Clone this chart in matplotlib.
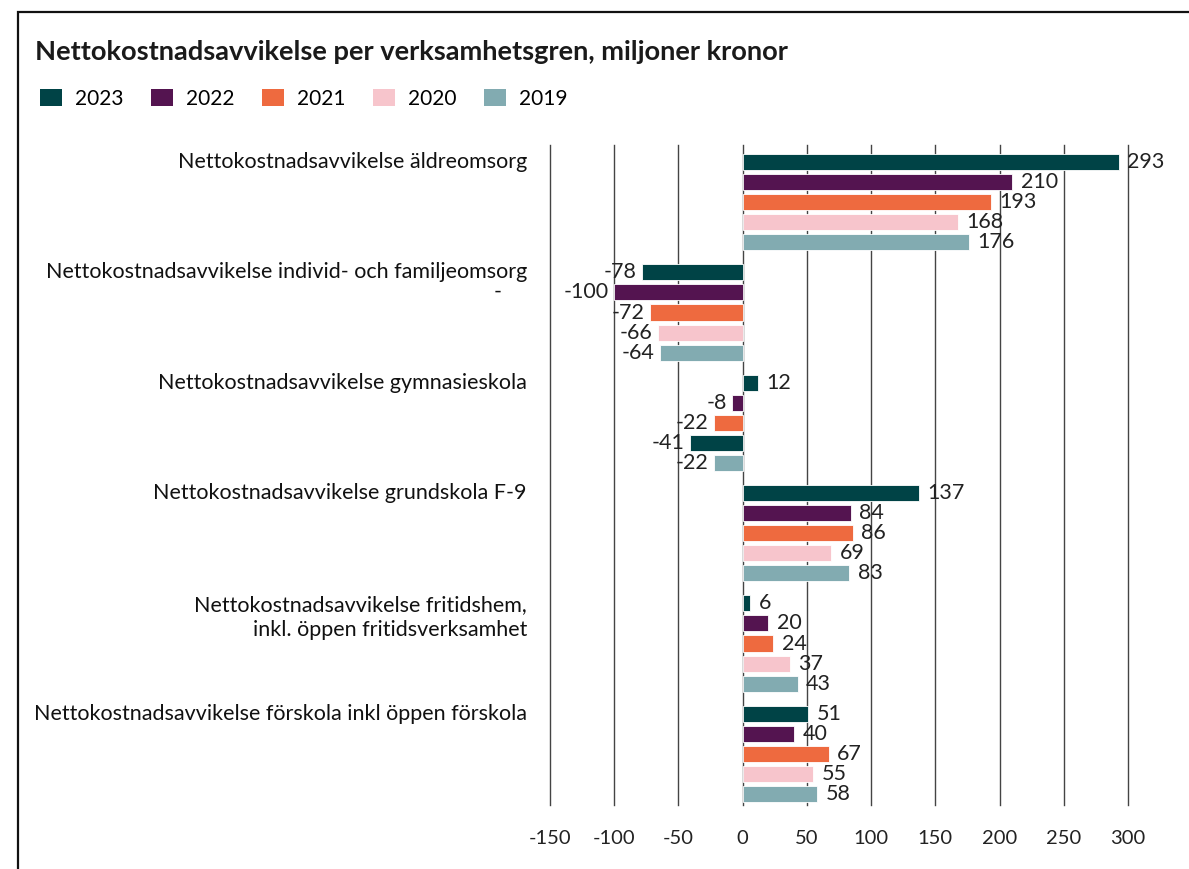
#!/usr/bin/env python

import matplotlib
matplotlib.use("Agg")
import matplotlib.pyplot as plt
import matplotlib.transforms as mtransforms
from matplotlib.patches import Rectangle, Patch

plt.rcParams['font.family'] = ['Lato', 'DejaVu Sans']

# data
categories = [
    "Nettokostnadsavvikelse äldreomsorg",
    "Nettokostnadsavvikelse individ- och familjeomsorg",
    "Nettokostnadsavvikelse gymnasieskola",
    "Nettokostnadsavvikelse grundskola F-9",
    "Nettokostnadsavvikelse fritidshem,\ninkl. öppen fritidsverksamhet",
    "Nettokostnadsavvikelse förskola inkl öppen förskola",
]
years = ["2023", "2022", "2021", "2020", "2019"]
v2023 = [293, -78, 12, 137, 6, 51]
v2022 = [210, -100, -8, 84, 20, 40]
v2021 = [193, -72, -22, 86, 24, 67]
v2020 = [168, -66, -41, 69, 37, 55]
v2019 = [176, -64, -22, 83, 43, 58]
series = [v2023, v2022, v2021, v2020, v2019]
xticks = [-150, -100, -50, 0, 50, 100, 150, 200, 250, 300]

colors = ["#004346", "#541450", "#EE6A3F", "#F7C5CC", "#82ABB1"]
# the original has the 2020 gymnasieskola bar drawn in the 2023 colour
color_override = {(3, 2): "#004346"}

W, H = 1189, 869
fig = plt.figure(figsize=(W / 100, H / 100), dpi=100)
ax = fig.add_axes([550 / W, 1 - 805 / H, (1128 - 550) / W, (805 - 145) / H])

group_step = 5.5
for j, vals in enumerate(series):
    for i, v in enumerate(vals):
        y = i * group_step + j
        c = color_override.get((j, i), colors[j])
        ax.barh(y, v, height=0.8, color=c, edgecolor="white", linewidth=0.6, zorder=3)
        if v >= 0:
            ax.annotate(str(v), (v, y), xytext=(6, 0), textcoords="offset points",
                        ha="left", va="center", fontsize=15.5, color="#222222",
                        annotation_clip=False, zorder=4)
        else:
            ax.annotate(str(v), (v, y), xytext=(-4, 0), textcoords="offset points",
                        ha="right", va="center", fontsize=15.5, color="#222222",
                        annotation_clip=False, zorder=4)

ax.set_xlim(-150, 300)
ax.set_ylim(32.05, -0.85)
ax.set_xticks(xticks)
ax.set_xticklabels([str(t) for t in xticks], fontsize=14.5, color="#222222")
ax.tick_params(axis="x", length=0, pad=18)
ax.set_yticks([])
for t in xticks:
    ax.axvline(t, color="#444444", linewidth=1.0, zorder=1, clip_on=False)
for s in ax.spines.values():
    s.set_visible(False)

# category labels
trans = mtransforms.blended_transform_factory(ax.transAxes, ax.transData)
for i, cat in enumerate(categories):
    n = cat.count("\n") + 1
    ax.text(-0.04, i * group_step + (n - 1) * 0.7, cat, transform=trans,
            ha="right", va="center", fontsize=15.5, color="#111111",
            linespacing=1.35)
ax.text(-0.09, 1 * group_step + 0.95, "-", transform=trans, ha="center",
        va="center", fontsize=15.5, color="#111111")

# title and legend
fig.text(35 / W, 1 - 52 / H, "Nettokostnadsavvikelse per verksamhetsgren, miljoner kronor",
         fontsize=19.6, fontweight="bold", color="#1a1a1a", va="center", ha="left")
handles = [Patch(facecolor=c, edgecolor="none") for c in colors]
fig.legend(handles, years, loc="upper left", bbox_to_anchor=(40 / W, 1 - 89 / H),
           ncol=5, frameon=False, fontsize=15, handlelength=1.05, handleheight=0.85,
           handletextpad=0.65, columnspacing=1.3, borderpad=0, borderaxespad=0)

# outer frame
fig.patches.append(Rectangle((18 / W, -0.1), 2, 1.1 - 12 / H, transform=fig.transFigure,
                             fill=False, edgecolor="#111111", linewidth=1.6))

fig.savefig("out.png", dpi=100)
